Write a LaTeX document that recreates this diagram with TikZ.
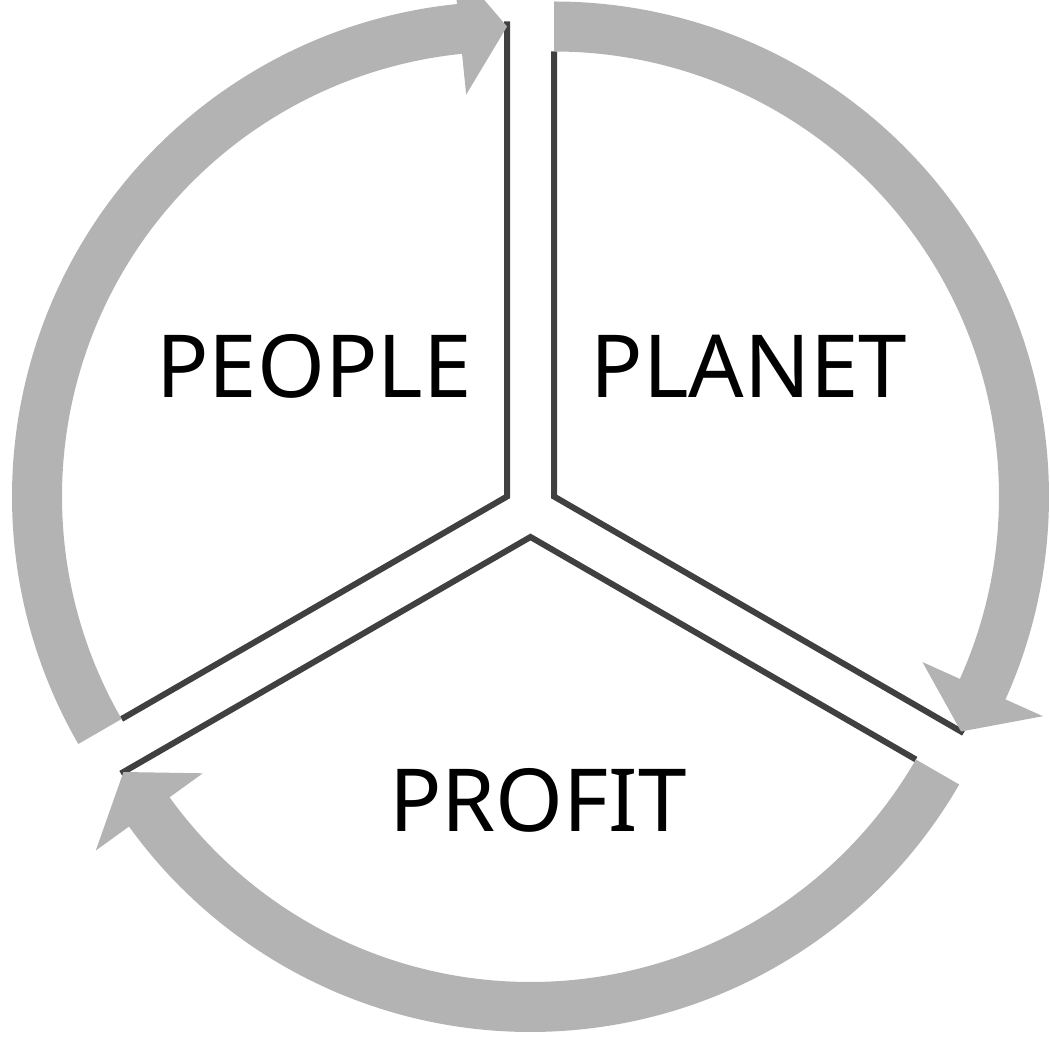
\documentclass[tikz,border=0pt]{standalone}
\usepackage{fontspec}
\setmainfont{Noto Sans}
\usepackage{tikz}
\definecolor{bandgray}{HTML}{B3B3B3}
\definecolor{spokegray}{HTML}{404040}

\begin{document}
\begin{tikzpicture}[
    x=1pt, y=1pt,
    band/.style={fill=bandgray},
    spoke/.style={draw=spokegray, line width=6pt},
    word/.style={font=\fontsize{87}{87}\selectfont, inner sep=0pt},
  ]
\useasboundingbox (0,0) rectangle (1050,1037);
\clip (0,0) rectangle (1050,1037);
\coordinate (people) at (507,540.5);
\coordinate (planet) at (554,540.5);
\coordinate (profit) at (530.5,500);

\draw[spoke] ([shift={(210:445)}]people) -- (people) -- ([shift={(90:475)}]people);
\draw[spoke] ([shift={(90:445)}]planet) -- (planet) -- ([shift={(-30:473)}]planet);
\draw[spoke] ([shift={(-30:445)}]profit) -- (profit) -- ([shift={(210:473)}]profit);

\fill[band] ([shift={(210:445)}]people) arc[start angle=210, end angle=95.8, radius=445]
  -- ([shift={(95.8:404)}]people) -- ([shift={(90:470)}]people)
  -- ([shift={(95.8:536)}]people) -- ([shift={(95.8:495)}]people)
  arc[start angle=95.8, end angle=210, radius=495] -- cycle;
\fill[band] ([shift={(90:445)}]planet) arc[start angle=90, end angle=-24.2, radius=445]
  -- ([shift={(-24.2:404)}]planet) -- ([shift={(-30:470)}]planet)
  -- ([shift={(-24.2:536)}]planet) -- ([shift={(-24.2:495)}]planet)
  arc[start angle=-24.2, end angle=90, radius=495] -- cycle;
\fill[band] ([shift={(-30:445)}]profit) arc[start angle=-30, end angle=-144.2, radius=445]
  -- ([shift={(-144.2:404)}]profit) -- ([shift={(-150:470)}]profit)
  -- ([shift={(-144.2:536)}]profit) -- ([shift={(-144.2:495)}]profit)
  arc[start angle=-144.2, end angle=-30, radius=495] -- cycle;

\node[word] (peoplelabel) at (314,671) {PEOPLE};
\node[word] (planetlabel) at (749,671) {PLANET};
\node[word] (profitlabel) at (538,237) {PROFIT};
\end{tikzpicture}
\end{document}
